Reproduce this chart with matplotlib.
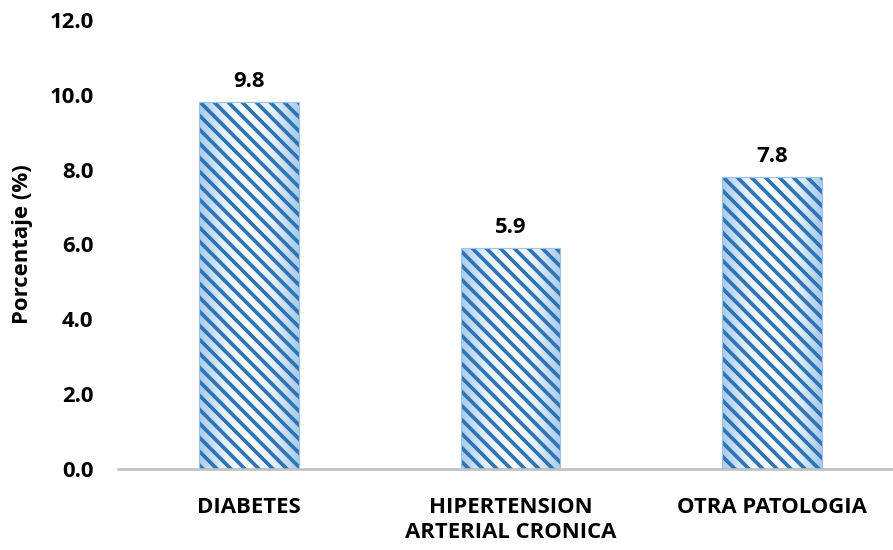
import numpy as np
import matplotlib
matplotlib.use("Agg")
import matplotlib.pyplot as plt
from matplotlib.colors import LinearSegmentedColormap

categories = ["DIABETES", "HIPERTENSION\nARTERIAL CRONICA", "OTRA PATOLOGIA"]
values = [9.8, 5.9, 7.8]
yticks = [0.0, 2.0, 4.0, 6.0, 8.0, 10.0, 12.0]

DPI = 84
FS = 19
plt.rcParams["font.family"] = ["Open Sans", "DejaVu Sans"]
plt.rcParams["hatch.linewidth"] = 3.2

fig = plt.figure(figsize=(893 / DPI, 550 / DPI), dpi=DPI)
ax = fig.add_axes([118 / 893, 81 / 550, 785 / 893, 449 / 550])

x = np.arange(len(categories))
width = 0.382

# soft gradient fill: pale blue at the sides, white in the middle
grad_cmap = LinearSegmentedColormap.from_list(
    "g", ["#A9CBEA", "#E6F0FA", "#FFFFFF", "#E6F0FA", "#A9CBEA"])
grad = np.linspace(0, 1, 256).reshape(1, -1)

bars = ax.bar(x, values, width=width, color="none", edgecolor="none", zorder=2)
for b in bars:
    x0, y0 = b.get_x(), b.get_y()
    im = ax.imshow(grad, cmap=grad_cmap, aspect="auto",
                   extent=[x0, x0 + b.get_width(), y0, y0 + b.get_height()],
                   zorder=1, interpolation="bicubic")
    im.set_clip_path(b)

# diagonal stripes on top of the gradient
ax.bar(x, values, width=width, color="none", edgecolor="#2E75B6",
       hatch="\\\\", linewidth=0, zorder=3)
# thin light outline
ax.bar(x, values, width=width, color="none", edgecolor="#9DC3E6",
       linewidth=1.0, zorder=4)

for xi, v in zip(x, values):
    ax.annotate(f"{v:.1f}", (xi, v), xytext=(0, 13), textcoords="offset points",
                ha="center", va="baseline", fontsize=FS, fontweight="bold",
                color="#000000")

ax.set_xlim(-0.5, 2.5)
ax.set_ylim(0, 12)
ax.set_yticks(yticks)
ax.set_yticklabels([f"{t:.1f}" for t in yticks])
ax.set_xticks(x)
ax.set_xticklabels(categories, linespacing=1.25)

ax.tick_params(axis="y", length=0, pad=21, labelsize=FS)
ax.tick_params(axis="x", length=0, pad=24, labelsize=FS)
for lab in ax.get_xticklabels() + ax.get_yticklabels():
    lab.set_fontweight("bold")

for side in ["top", "right", "left"]:
    ax.spines[side].set_visible(False)
ax.spines["bottom"].set_color("#BFBFBF")
ax.spines["bottom"].set_linewidth(2.2)
ax.spines["bottom"].set_zorder(5)

ax.set_ylabel("Porcentaje (%)", fontsize=FS, fontweight="bold")
ax.yaxis.set_label_coords(-0.108, 0.5)

fig.savefig("out.png", dpi=DPI)
